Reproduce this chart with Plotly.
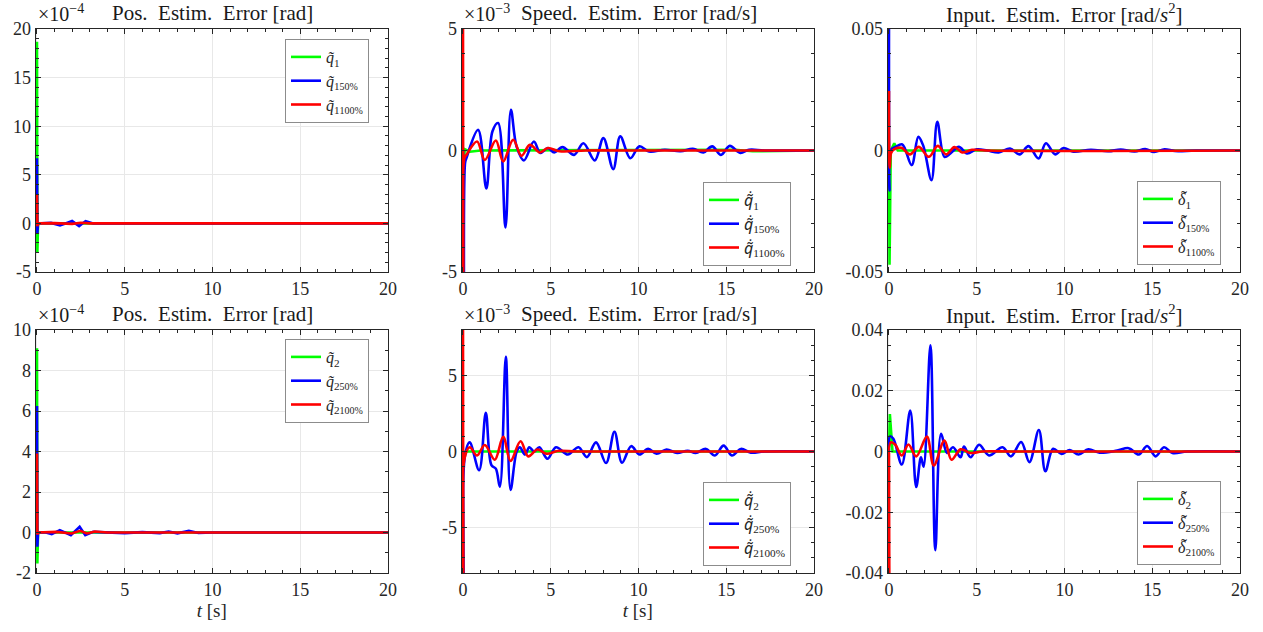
import plotly.graph_objects as go

FONT = "Liberation Serif"
GREEN, BLUE, RED = "#00ff00", "#0000ff", "#ff0000"

# ---------------- data (values in displayed axis units) ----------------
# Panel 1: position error joint 1 (x1e-4 rad)
t_p1_g = [0, 0.02, 0.06, 0.15, 20]
y_p1_g = [18.7, -3.0, 0.0, 0.0, 0.0]
t_p1_b = [0, 0.02, 0.06, 0.8, 1.31, 1.7, 2.0, 2.4, 2.77, 3.2, 4.0, 20]
y_p1_b = [6.7, -1.0, 0.0, 0.05, -0.2, 0.05, 0.24, -0.27, 0.24, 0.0, 0.0, 0.0]
t_p1_r = [0, 0.02, 0.06, 1.0, 2.0, 2.5, 3.0, 20]
y_p1_r = [3.0, -0.3, 0.0, 0.03, -0.05, 0.06, 0.0, 0.0]

# Panel 2: speed error joint 1 (x1e-3 rad/s)
t_p2_g = [0, 0.03, 0.1, 0.4, 1.0, 2.0, 5.0, 10.0, 15.5, 16.5, 20]
y_p2_g = [0, -0.6, 0.05, -0.05, 0.0, 0.0, 0.0, 0.0, 0.03, -0.03, 0.0]
t_p2_b = [0, 0.05, 0.12, 0.19, 0.86, 1.33, 1.68, 2.0, 2.42, 2.73, 3.05, 3.47,
          4.04, 4.4, 4.84, 5.2, 5.67, 6.33, 6.86, 7.51, 8.0, 8.56, 8.96, 9.53,
          10.05, 10.6, 11.5, 12.4, 13.1, 13.7, 14.2, 14.7, 15.2, 15.8, 16.3, 17.2, 20]
y_p2_b = [0, -6, -0.5, -0.32, 0.85, -1.56, 0.79, 1.13, -3.17, 1.68, 0.17, -0.41,
          0.37, -0.1, 0.1, -0.08, 0.14, -0.18, 0.3, -0.41, 0.51, -0.77, 0.58, -0.32,
          0.17, -0.04, 0.03, -0.03, 0.07, -0.08, 0.17, -0.18, 0.19, -0.1, 0.03, 0.0, 0.0]
t_p2_r = [0, 0.03, 0.08, 0.19, 0.8, 1.24, 1.87, 2.29, 2.86, 3.33, 3.81, 4.38,
          4.84, 5.5, 7.0, 10.0, 20]
y_p2_r = [6, -6, -0.3, -0.18, 0.37, -0.39, 0.41, -0.45, 0.44, -0.22, 0.23, -0.08,
          0.1, -0.03, 0.0, 0.0, 0.0]

# Panel 3: input error joint 1 (rad/s^2)
t_p3_g = [0, 0.03, 0.1, 0.3, 0.5, 20]
y_p3_g = [0, -0.047, 0.0, 0.003, 0.0, 0.0]
t_p3_b = [0, 0.03, 0.1, 0.38, 0.76, 1.29, 1.67, 1.95, 2.42, 2.75, 3.16, 3.5,
          3.98, 4.45, 5.0, 5.6, 6.25, 6.9, 7.44, 7.95, 8.52, 8.94, 9.47, 9.94,
          10.5, 11.5, 12.5, 13.2, 14.0, 14.6, 15.1, 15.7, 16.3, 17.5, 20]
y_p3_b = [0.06, -0.0164, 0.0, 0.0015, 0.0025, -0.006, 0.0056, 0.002, -0.0122,
          0.0118, -0.0026, -0.0012, 0.0015, -0.0012, 0.0005, 0.0, -0.0008,
          0.0008, -0.0016, 0.0018, -0.0033, 0.003, -0.0016, 0.001, -0.0005,
          0.0003, -0.0003, 0.0004, -0.0004, 0.0006, -0.0006, 0.0005, -0.0002, 0.0, 0.0]
t_p3_r = [0, 0.04, 0.12, 0.28, 0.7, 1.19, 1.7, 2.27, 2.78, 3.26, 3.73, 4.17,
          4.73, 5.5, 20]
y_p3_r = [0.0245, -0.007, -0.001, 0.0005, 0.0011, -0.0016, 0.0015, -0.0026,
          0.0019, -0.0016, 0.0014, -0.0008, 0.0003, 0.0, 0.0]

# Panel 4: position error joint 2 (x1e-4 rad)
t_p4_g = [0, 0.02, 0.06, 0.15, 20]
y_p4_g = [9.1, -1.53, 0.0, 0.0, 0.0]
t_p4_b = [0, 0.02, 0.06, 0.5, 0.84, 1.3, 1.93, 2.43, 2.75, 3.2, 4.0, 5.0, 6.0,
          7.0, 7.5, 8.0, 8.65, 9.2, 10.0, 20]
y_p4_b = [6.25, -0.7, 0.0, 0.0, -0.08, 0.12, -0.13, 0.28, -0.13, 0.03, 0.0,
          -0.03, 0.02, -0.03, 0.05, -0.04, 0.08, -0.02, 0.0, 0.0]
t_p4_r = [0, 0.02, 0.06, 1.1, 1.97, 2.46, 2.85, 3.3, 4.0, 20]
y_p4_r = [3.9, -0.1, 0.0, 0.03, -0.05, 0.08, -0.05, 0.05, 0.0, 0.0]

# Panel 5: speed error joint 2 (x1e-3 rad/s)
t_p5_g = [0, 0.05, 0.15, 20]
y_p5_g = [0, -0.4, 0.0, 0.0]
t_p5_b = [0, 0.05, 0.1, 0.38, 0.92, 1.3, 1.62, 1.87, 2.1, 2.44, 2.71, 3.05,
          3.24, 3.53, 3.78, 4.05, 4.35, 4.81, 5.3, 5.97, 6.58, 7.06, 7.58, 8.15,
          8.63, 9.06, 9.58, 10.06, 10.55, 11.03, 11.6, 12.2, 12.8, 13.26, 13.84,
          14.35, 14.85, 15.32, 15.84, 16.4, 17.2, 20]
y_p5_b = [0, -9, -0.37, 0.6, -1.23, 2.55, -0.9, -1.13, -2.32, 6.23, -2.53, -0.04,
          0.28, -0.2, 0.28, 0.0, 0.28, -0.48, 0.28, -0.2, 0.28, -0.37, 0.6, -0.76,
          1.3, -0.74, 0.35, -0.2, 0.17, -0.15, 0.13, -0.1, 0.05, -0.1, 0.17,
          -0.26, 0.39, -0.26, 0.17, -0.08, 0.0, 0.0]
t_p5_r = [0, 0.03, 0.08, 0.38, 0.8, 1.24, 1.81, 2.29, 2.71, 3.28, 3.72, 4.24,
          4.77, 5.4, 6.5, 10.0, 20]
y_p5_r = [9, -9, -0.5, 0.28, -0.26, 0.43, -0.54, 0.97, -0.63, 0.67, -0.32, 0.13,
          -0.15, 0.03, 0.0, 0.0, 0.0]

# Panel 6: input error joint 2 (rad/s^2)
t_p6_g = [0, 0.05, 0.2, 20]
y_p6_g = [0, 0.0123, 0.0, 0.0]
t_p6_b = [0, 0.05, 0.25, 0.73, 1.21, 1.55, 1.82, 1.97, 2.36, 2.64, 2.97, 3.31,
          3.65, 4.08, 4.27, 4.65, 5.13, 5.7, 6.47, 6.95, 7.53, 8.0, 8.54, 8.91,
          9.35, 9.83, 10.3, 10.8, 11.36, 12.0, 13.0, 13.66, 14.23, 14.71, 15.19,
          15.67, 16.15, 17.0, 20]
y_p6_b = [0, 0.005, 0.0042, -0.0043, 0.0135, -0.0117, -0.0019, -0.005, 0.035,
          -0.0325, 0.0058, -0.0005, 0.0014, -0.0019, 0.0016, -0.0019, 0.0022,
          -0.0013, 0.0014, -0.0016, 0.0031, -0.0035, 0.0071, -0.0065, 0.0009,
          -0.0008, 0.0005, -0.001, 0.0007, -0.0004, 0.0003, 0.0011, -0.001,
          0.0018, -0.0016, 0.0014, -0.0005, 0.0, 0.0]
t_p6_r = [0, 0.03, 0.1, 0.35, 0.73, 1.11, 1.55, 2.16, 2.55, 3.16, 3.56, 4.08,
          4.65, 5.3, 7.0, 20]
y_p6_r = [0, -0.045, 0.003, 0.0023, -0.0013, 0.0023, -0.0016, 0.0049, -0.0046,
          0.0036, -0.0027, 0.0007, -0.0005, 0.0, 0.0, 0.0]

x_ticks = [0, 5, 10, 15, 20]
x_ticktext = ["0", "5", "10", "15", "20"]

# ---------------- layout helpers ----------------
W, H = 1263, 632
XPAD = 0.08  # small left pad in data units so the t=0 spikes are not clipped
xdoms = [(37, 388), (463, 814), (889, 1240)]
ydoms = [(29, 272), (330, 573)]

def px_x(v):
    return v / W

def px_y(v):
    return 1 - v / H

q1 = "<i>q\u0303</i>"
qd = "<span style='font-family:Noto Sans'><i>q\u0303\u0307</i></span>"
dl = "<i>\u03b4</i>"
sm = "<span style='font-size:10px'>%s</span>"

panels = [
    dict(data=[(t_p1_g, y_p1_g), (t_p1_b, y_p1_b), (t_p1_r, y_p1_r)], shape="linear",
         yr=[-5, 20], yt=[-5, 0, 5, 10, 15, 20], ytt=["-5", "0", "5", "10", "15", "20"], ym=1,
         title="Pos.  Estim.  Error [rad]", exp="\u00d710<sup>\u22124</sup>",
         names=[q1 + "<sub>1</sub>", q1 + "<sub>1" + sm % "50%" + "</sub>", q1 + "<sub>1" + sm % "100%" + "</sub>"],
         leg=(285, 39), xt=False, tilde=False),
    dict(data=[(t_p2_g, y_p2_g), (t_p2_b, y_p2_b), (t_p2_r, y_p2_r)], shape="spline",
         yr=[-5, 5], yt=[-5, 0, 5], ytt=["-5", "0", "5"], ym=1,
         title="Speed.  Estim.  Error [rad/s]", exp="\u00d710<sup>\u22123</sup>",
         names=[qd + "<sub>1</sub>", qd + "<sub>150%</sub>", qd + "<sub>1100%</sub>"],
         leg=(703, 182), xt=False, tilde=False),
    dict(data=[(t_p3_g, y_p3_g), (t_p3_b, y_p3_b), (t_p3_r, y_p3_r)], shape="spline",
         yr=[-0.05, 0.05], yt=[-0.05, 0, 0.05], ytt=["-0.05", "0", "0.05"], ym=0.01,
         title="Input.  Estim.  Error [rad/<i>s</i><sup>2</sup>]", exp=None,
         names=[dl + "<sub>1</sub>", dl + "<sub>1" + sm % "50%" + "</sub>", dl + "<sub>1" + sm % "100%" + "</sub>"],
         leg=(1137, 181), xt=False, tilde=True),
    dict(data=[(t_p4_g, y_p4_g), (t_p4_b, y_p4_b), (t_p4_r, y_p4_r)], shape="linear",
         yr=[-2, 10], yt=[-2, 0, 2, 4, 6, 8, 10], ytt=["-2", "0", "2", "4", "6", "8", "10"], ym=1,
         title="Pos.  Estim.  Error [rad]", exp="\u00d710<sup>\u22124</sup>",
         names=[q1 + "<sub>2</sub>", q1 + "<sub>2" + sm % "50%" + "</sub>", q1 + "<sub>2" + sm % "100%" + "</sub>"],
         leg=(285, 339), xt=True, tilde=False),
    dict(data=[(t_p5_g, y_p5_g), (t_p5_b, y_p5_b), (t_p5_r, y_p5_r)], shape="spline",
         yr=[-8, 8], yt=[-5, 0, 5], ytt=["-5", "0", "5"], ym=1,
         title="Speed.  Estim.  Error [rad/s]", exp="\u00d710<sup>\u22123</sup>",
         names=[qd + "<sub>2</sub>", qd + "<sub>250%</sub>", qd + "<sub>2100%</sub>"],
         leg=(703, 482), xt=True, tilde=False),
    dict(data=[(t_p6_g, y_p6_g), (t_p6_b, y_p6_b), (t_p6_r, y_p6_r)], shape="spline",
         yr=[-0.04, 0.04], yt=[-0.04, -0.02, 0, 0.02, 0.04], ytt=["-0.04", "-0.02", "0", "0.02", "0.04"], ym=0.005,
         title="Input.  Estim.  Error [rad/<i>s</i><sup>2</sup>]", exp=None,
         names=[dl + "<sub>2</sub>", dl + "<sub>2" + sm % "50%" + "</sub>", dl + "<sub>2" + sm % "100%" + "</sub>"],
         leg=(1137, 481), xt=False, tilde=True),
]

fig = go.Figure()
layout = dict(width=W, height=H, margin=dict(l=0, r=0, t=0, b=0, autoexpand=False),
              paper_bgcolor="white", plot_bgcolor="white",
              font=dict(family=FONT, size=18, color="#262626"), annotations=[])

colors = [GREEN, BLUE, RED]
for i, p in enumerate(panels):
    k = i + 1
    sfx = "" if k == 1 else str(k)
    row, col = divmod(i, 3)
    x0, x1 = xdoms[col]
    yt0, yt1 = ydoms[row]
    x0p = x0 - XPAD * (x1 - x0) / 20.0
    legname = "legend" + sfx
    for j, (tt, yy) in enumerate(p["data"]):
        shape = "linear" if j == 0 else p["shape"]
        fig.add_trace(go.Scatter(
            x=tt, y=yy, mode="lines", name=p["names"][j],
            line=dict(color=colors[j], width=2.6, shape=shape, smoothing=1.0),
            xaxis="x" + sfx, yaxis="y" + sfx, legend=legname, showlegend=True))
    axcommon = dict(showline=True, linecolor="#262626", linewidth=1, mirror="ticks",
                    ticks="inside", ticklen=5, tickcolor="#262626", automargin=False,
                    showgrid=True, gridcolor="#e8e8e8", gridwidth=1, zeroline=False,
                    tickfont=dict(family=FONT, size=18, color="#262626"))
    xt = dict(text="<i>t</i> [s]", font=dict(family=FONT, size=19), standoff=2) if p["xt"] else None
    layout["xaxis" + sfx] = dict(axcommon, domain=[px_x(x0p), px_x(x1)], range=[-XPAD, 20],
                                 anchor="y" + sfx, tickvals=x_ticks, ticktext=x_ticktext,
                                 minor=dict(dtick=1, tick0=0, ticks="inside", ticklen=3,
                                            tickcolor="#262626", showgrid=False),
                                 title=xt)
    layout["yaxis" + sfx] = dict(axcommon, domain=[px_y(yt1), px_y(yt0)], range=p["yr"],
                                 anchor="x" + sfx, tickvals=p["yt"], ticktext=p["ytt"],
                                 minor=dict(dtick=p["ym"], tick0=0, ticks="inside", ticklen=3,
                                            tickcolor="#262626", showgrid=False))
    lx, ly = p["leg"]
    layout[legname] = dict(x=px_x(lx), y=px_y(ly), xanchor="left", yanchor="top",
                           xref="paper", yref="paper", bgcolor="white",
                           bordercolor="#8c8c8c", borderwidth=1,
                           font=dict(family=FONT, size=16, color="#262626"),
                           tracegroupgap=0)
    if p["tilde"]:
        # tilde accents over the delta symbols of the legend entries
        for m in range(3):
            layout["annotations"].append(dict(
                text="\u02dc", x=px_x(lx + 41 + 6), y=px_y(ly + 21 + 24 * m - 4),
                xref="paper", yref="paper", xanchor="center", yanchor="middle",
                showarrow=False, font=dict(family=FONT, size=18, color="#262626")))
    layout["annotations"].append(dict(
        text=p["title"], x=px_x((x0 + x1) / 2), y=px_y(yt0 - 16), xref="paper", yref="paper",
        xanchor="center", yanchor="middle", showarrow=False,
        font=dict(family=FONT, size=21, color="#1a1a1a")))
    if p["exp"]:
        layout["annotations"].append(dict(
            text=p["exp"], x=px_x(x0 - 1), y=px_y(yt0 - 16), xref="paper", yref="paper",
            xanchor="left", yanchor="middle", showarrow=False,
            font=dict(family=FONT, size=20, color="#1a1a1a")))

fig.update_layout(**layout)
fig.write_html("out.html", config={"displayModeBar": False},
               post_script="document.body.style.margin='0px';document.body.style.overflow='hidden';")
